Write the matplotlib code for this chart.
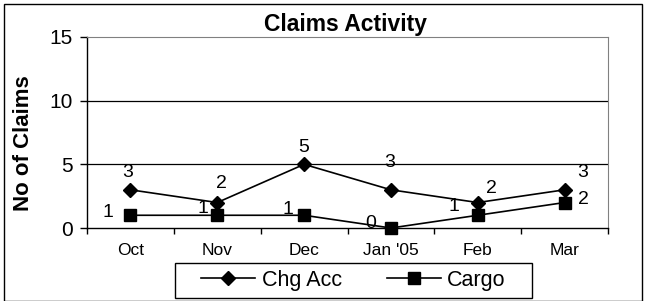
import matplotlib
matplotlib.use("Agg")
import matplotlib.pyplot as plt
from matplotlib.patches import Rectangle
import numpy as np

plt.rcParams['font.family'] = ['Liberation Sans', 'DejaVu Sans']

categories = ["Oct", "Nov", "Dec", "Jan '05", "Feb", "Mar"]
chg_acc = [3, 2, 5, 3, 2, 3]
cargo = [1, 1, 1, 0, 1, 2]
y_ticks = [0, 5, 10, 15]

# label offsets in pixels (dx, dy)
chg_off = [(-3, 17), (4, 19), (0, 17), (-1, 27), (14, 14), (18, 17)]
cargo_off = [(-22, 3), (-14, 7), (-16, 6), (-20, 5), (-24, 9), (19, 3)]

W, H = 647, 301
fig = plt.figure(figsize=(W/100, H/100), dpi=100)
left, right, top, bottom = 87, 608, 37, 228
ax = fig.add_axes([left/W, 1 - bottom/H, (right-left)/W, (bottom-top)/H])

x = np.arange(len(categories)) + 0.5
l1, = ax.plot(x, chg_acc, color='black', lw=1.2, marker='D', markersize=7,
              markerfacecolor='black', label='Chg Acc', clip_on=False)
l2, = ax.plot(x, cargo, color='black', lw=1.2, marker='s', markersize=9,
              markerfacecolor='black', label='Cargo', clip_on=False)

for xi, v, (dx, dy) in zip(x, chg_acc, chg_off):
    ax.annotate(str(v), (xi, v), xytext=(dx, dy), textcoords='offset pixels',
                ha='center', va='center', fontsize=14)
for xi, v, (dx, dy) in zip(x, cargo, cargo_off):
    ax.annotate(str(v), (xi, v), xytext=(dx, dy), textcoords='offset pixels',
                ha='center', va='center', fontsize=14)

ax.set_xlim(0, len(categories))
ax.set_ylim(0, 15)
ax.set_yticks(y_ticks)
ax.set_yticklabels([str(t) for t in y_ticks], fontsize=15)
ax.set_xticks(np.arange(len(categories) + 1))
ax.set_xticklabels([])
ax.set_xticks(x, minor=True)
ax.set_xticklabels(categories, minor=True, fontsize=12.5)
ax.tick_params(axis='x', which='minor', length=0, pad=11)
ax.tick_params(axis='x', which='major', length=4, direction='out', width=1)
ax.tick_params(axis='y', length=5, direction='out', width=1, pad=5)

for yv in y_ticks[1:-1]:
    ax.axhline(yv, color='black', lw=0.9, zorder=0)
ax.spines['top'].set_color('#808080')
ax.spines['right'].set_color('#808080')
ax.spines['left'].set_color('black')
ax.spines['bottom'].set_color('black')
ax.spines['left'].set_linewidth(1)
ax.spines['bottom'].set_linewidth(1)

fig.text(345/W, 1 - 25/H, "Claims Activity", ha='center', va='center',
         fontsize=16.5, fontweight='bold')
fig.text(24/W, 1 - 143/H, "No of Claims", ha='center', va='center',
         rotation=90, fontsize=16, fontweight='bold')

# legend frame drawn explicitly
lx0, lx1, ly0, ly1 = 175, 532, 263, 298
fig.patches.append(Rectangle((lx0/W, 1 - ly1/H), (lx1-lx0)/W, (ly1-ly0)/H,
                             transform=fig.transFigure, fill=False,
                             edgecolor='black', lw=1))
leg = fig.legend(handles=[l1, l2], loc='center', ncol=2,
                 bbox_to_anchor=((lx0+lx1)/2/W, 1 - (ly0+ly1)/2/H), fontsize=15.5,
                 frameon=False, handlelength=2.5, columnspacing=2.1,
                 borderpad=0.0, handletextpad=0.3)

fig.patches.append(Rectangle((4/W, 0), (642-4)/W, 1 - 4/H, transform=fig.transFigure,
                             fill=False, edgecolor='black', lw=1))

fig.savefig('out.png', dpi=100)
